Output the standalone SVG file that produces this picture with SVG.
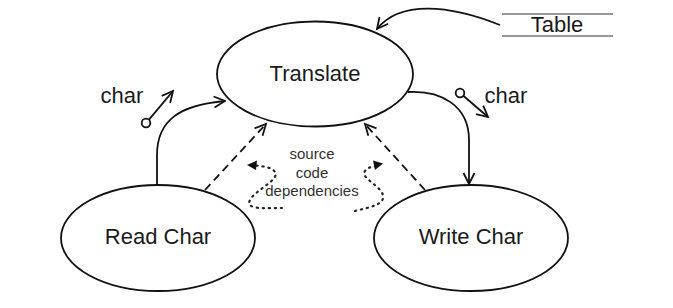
<svg xmlns="http://www.w3.org/2000/svg" width="673" height="308" viewBox="0 0 673 308">
<style>
.node{fill:#fff;stroke:#111;stroke-width:1.8}
.lbl{font-family:"Liberation Sans",Arial,sans-serif;fill:#1a1a1a;text-anchor:middle}
.big{font-size:22px}
.small{font-size:15px;fill:#333}
.ln{fill:none;stroke:#111;stroke-width:1.8}
.dash{stroke-dasharray:8 5}
.dot{fill:none;stroke:#222;stroke-width:2.2;stroke-dasharray:1.2 4.8;stroke-linecap:round}
.open{marker-end:url(#open)}
.tbl{stroke:#777;stroke-width:1.5}
</style>
<defs>
<marker id="open" markerUnits="userSpaceOnUse" viewBox="0 0 14 14" refX="12.5" refY="7" markerWidth="14" markerHeight="14" orient="auto">
<path d="M1.5,1.5 L12.5,7 L1.5,12.5" fill="none" stroke="#111" stroke-width="1.8"/>
</marker>
</defs>
<rect width="673" height="308" fill="#fff"/>
<g id="translate">
<ellipse class="node" cx="315" cy="74" rx="98" ry="52.5"/>
<text class="lbl big" x="315" y="81">Translate</text>
</g>
<g id="readchar">
<ellipse class="node" cx="158" cy="238" rx="97" ry="53"/>
<text class="lbl big" x="158" y="244">Read Char</text>
</g>
<g id="writechar">
<ellipse class="node" cx="471" cy="238" rx="97" ry="53"/>
<text class="lbl big" x="471" y="244">Write Char</text>
</g>
<g id="table">
<line class="tbl" x1="502" y1="14" x2="613" y2="14"/>
<line class="tbl" x1="502" y1="36" x2="613" y2="36"/>
<text class="lbl big" x="557" y="32">Table</text>
</g>
<g id="connectors">
<path class="ln open" d="M500 25 C450 5,400 0,377 29"/>
<path class="ln open" d="M157 185 L157 155 C157 120,180 105,225 101"/>
<path class="ln open" d="M408 92 C440 90,469 105,469 140 L469 184"/>
<path class="ln dash open" d="M205 190 L266 124"/>
<path class="ln dash open" d="M425 190 L365 124"/>
<path class="dot" d="M282 208 C265 208,245 210,250 200 C255 190,280 180,275 172 C272 167,262 166,254 165.5"/>
<path d="M247 165 L257 160.5 L256 170 Z" fill="#111"/>
<path class="dot" d="M355 211 C370 207,385 205,383 195 C380 185,360 178,365 171 C368 167,372 167,376 166"/>
<path d="M383 163.5 L373 160.5 L375 170 Z" fill="#111"/>
<circle class="ln" cx="146" cy="123" r="4.3"/>
<path class="ln open" d="M149 119.6 L173 91"/>
<circle class="ln" cx="460" cy="93" r="4.3"/>
<path class="ln open" d="M463.3 95.8 L488 117"/>
</g>
<text class="lbl big" x="122" y="103">char</text>
<text class="lbl big" x="506" y="103">char</text>
<text class="lbl small" x="312" y="159">source</text>
<text class="lbl small" x="312" y="178">code</text>
<text class="lbl small" x="312" y="196">dependencies</text>
</svg>
